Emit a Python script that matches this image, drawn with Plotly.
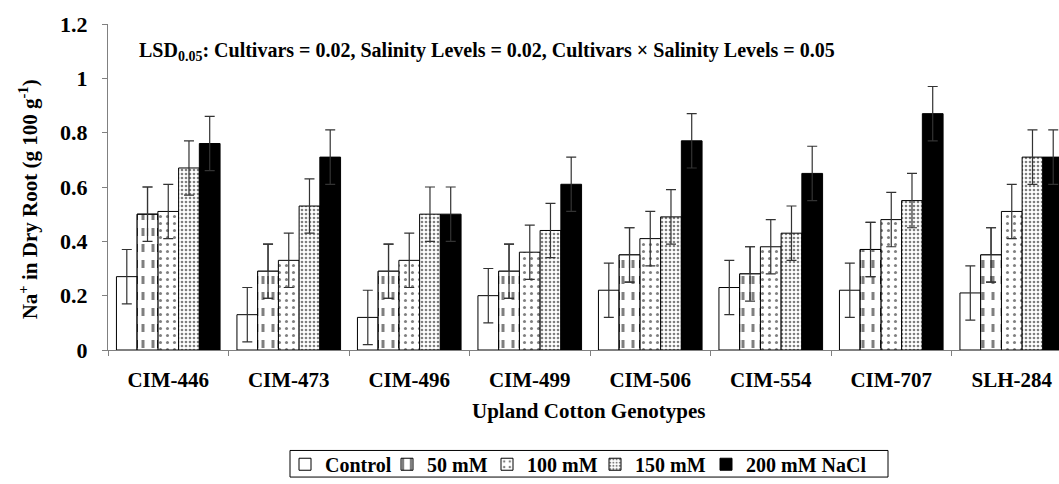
import plotly.graph_objects as go

genotypes = ["CIM-446", "CIM-473", "CIM-496", "CIM-499", "CIM-506", "CIM-554", "CIM-707", "SLH-284"]
levels = ["Control", "50 mM", "100 mM", "150 mM", "200 mM NaCl"]

control = [0.27, 0.13, 0.12, 0.20, 0.22, 0.23, 0.22, 0.21]
mm50 = [0.50, 0.29, 0.29, 0.29, 0.35, 0.28, 0.37, 0.35]
mm100 = [0.51, 0.33, 0.33, 0.36, 0.41, 0.38, 0.48, 0.51]
mm150 = [0.67, 0.53, 0.50, 0.44, 0.49, 0.43, 0.55, 0.71]
mm200 = [0.76, 0.71, 0.50, 0.61, 0.77, 0.65, 0.87, 0.71]
err = [0.10, 0.10, 0.10, 0.10, 0.10, 0.10, 0.10, 0.10]

series = [control, mm50, mm100, mm150, mm200]
patterns = [
    dict(shape=""),
    dict(shape="|", size=10, solidity=0.3, fgcolor="black", bgcolor="white"),
    dict(shape=".", size=7, solidity=0.15, fgcolor="black", bgcolor="white"),
    dict(shape=".", size=4, solidity=0.35, fgcolor="black", bgcolor="white"),
    dict(shape=""),
]
colors = ["white", "white", "white", "white", "black"]

FONT = "Liberation Serif"

# layout helpers (pixel -> paper) for a plot area spanning x 108..1059, y 24..355
PL, PW, PT, PH = 108, 951, 24, 331
def px_x(v):
    return (v - PL) / PW
def px_y(v):
    return (PT + PH - v) / PH

legend_ids = ["legend", "legend2", "legend3", "legend4", "legend5"]
legend_left_px = [285, 387, 487, 595, 706]

fig = go.Figure()
for i, (name, vals, pat, col, lid) in enumerate(zip(levels, series, patterns, colors, legend_ids)):
    fig.add_trace(go.Bar(
        x=genotypes, y=vals, name=name, legend=lid, offsetgroup=str(i),
        marker=dict(color=col, line=dict(color="black", width=1), pattern=pat),
        error_y=dict(type="data", array=err, visible=True, color="#333333", thickness=1.2, width=5),
    ))

# white horizontal breaks over the 50 mM bars so the vertical lines read as dashes
fig.add_trace(go.Bar(
    x=genotypes, y=mm50, offsetgroup="1", showlegend=False, hoverinfo="skip",
    marker=dict(
        color="rgba(0,0,0,0)", line=dict(color="black", width=1),
        pattern=dict(shape="-", size=16, solidity=0.5, fgcolor="white", fgopacity=1, fillmode="overlay"),
    ),
))
# re-draw 50 mM error bars above the overlay
fig.add_trace(go.Bar(
    x=genotypes, y=mm50, offsetgroup="1", showlegend=False, hoverinfo="skip",
    marker=dict(color="rgba(0,0,0,0)", line=dict(width=0)),
    error_y=dict(type="data", array=err, visible=True, color="#333333", thickness=1.2, width=5),
))

# LSD annotation
fig.add_annotation(
    x=0.031, xref="paper", y=1.1, yref="y", xanchor="left", yanchor="middle",
    text="<b>LSD<sub>0.05</sub>: Cultivars = 0.02, Salinity Levels = 0.02, Cultivars × Salinity Levels = 0.05</b>",
    showarrow=False, font=dict(family=FONT, size=20, color="black"),
)
# x-axis title
fig.add_annotation(
    x=px_x(588), xref="paper", y=px_y(417), yref="paper", xanchor="center", yanchor="middle",
    text="<b>Upland Cotton Genotypes</b>", showarrow=False,
    font=dict(family=FONT, size=21, color="black"),
)
# y-axis title
fig.add_annotation(
    x=px_x(28), xref="paper", y=px_y(202), yref="paper", xanchor="center", yanchor="middle",
    text="<b>Na<sup>+</sup> in Dry Root (g 100 g<sup>-1</sup>)</b>", showarrow=False, textangle=-90,
    font=dict(family=FONT, size=21, color="black"),
)
# legend frame
fig.add_shape(
    type="rect", xref="paper", yref="paper",
    x0=px_x(290), x1=px_x(888), y0=px_y(484), y1=px_y(457),
    line=dict(color="black", width=1), fillcolor="rgba(0,0,0,0)", layer="above",
)

legend_common = dict(
    orientation="h", xanchor="left", yanchor="middle", y=px_y(471),
    borderwidth=0, bgcolor="rgba(0,0,0,0)", itemwidth=30,
    font=dict(family=FONT, size=20, color="black", weight="bold"),
)
legend_layout = {lid: dict(legend_common, x=px_x(lx)) for lid, lx in zip(legend_ids, legend_left_px)}

fig.update_layout(
    width=1059, height=484,
    margin=dict(l=108, r=0, t=24, b=129),
    paper_bgcolor="white", plot_bgcolor="white",
    barmode="group", bargap=0.14, bargroupgap=0,
    font=dict(family=FONT, color="black"),
    showlegend=True,
    xaxis=dict(
        range=[-0.5, 7.392], showline=True, linecolor="#808080", linewidth=1,
        ticks="outside", tickson="boundaries", ticklen=5, tickcolor="#808080",
        ticklabelstandoff=11,
        tickfont=dict(family=FONT, size=21, color="black", weight="bold"),
        showgrid=False, zeroline=False,
    ),
    yaxis=dict(
        range=[0, 1.2], dtick=0.2, showline=True, linecolor="#808080", linewidth=1,
        ticks="outside", ticklen=5, tickcolor="#808080",
        ticklabelstandoff=10,
        tickfont=dict(family=FONT, size=22, color="black", weight="bold"),
        showgrid=False, zeroline=False,
    ),
    **legend_layout,
)

fig.write_html(
    "out.html",
    config={"displayModeBar": False},
    post_script="document.body.style.margin='0';document.body.style.overflow='hidden';",
)
